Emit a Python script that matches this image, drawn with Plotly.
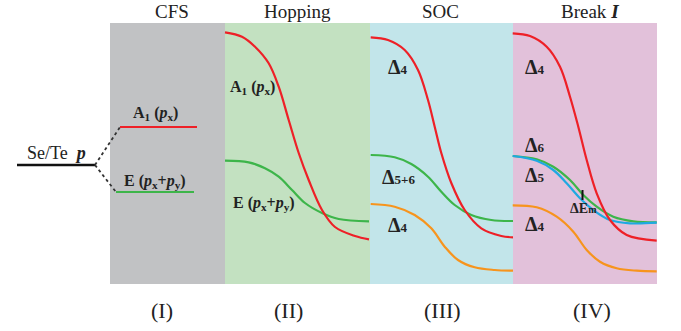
import plotly.graph_objects as go

# ---- data (diagram coordinates: x to the right, y = level position, downward axis) ----
panel_names = ["CFS", "Hopping", "SOC", "Break <b><i>I</i></b>"]
panel_roman = ["(I)", "(II)", "(III)", "(IV)"]
panel_edges = [110, 225, 370, 513, 657]
panel_top, panel_bottom = 23, 284
panel_colors = ["#c1c2c4", "#c3e1c1", "#c2e5ea", "#e2c1da"]

# atomic level and crystal-field split levels
atom_x = [17, 95]
atom_y = [165, 165]
cfs_a1_x = [120, 197]
cfs_a1_y = [127, 127]
cfs_e_x = [116, 194]
cfs_e_y = [192, 192]
dot_up_x = [95, 120]
dot_up_y = [165, 127]
dot_dn_x = [95, 116]
dot_dn_y = [165, 192]

# Hopping panel
hop_red_x = [225, 242, 255, 268.7, 278.7, 288.7, 298.7, 308.7, 322, 335, 355, 369]
hop_red_y = [32.3, 36.7, 46.7, 63.3, 86.7, 120, 153, 180, 210, 227, 236, 239.3]
hop_grn_x = [225, 248.7, 265, 278.7, 292, 305, 322, 338.7, 369]
hop_grn_y = [160.7, 162.3, 168.3, 176.7, 190, 203, 213, 219, 221.3]

# SOC panel
soc_red_x = [370.7, 388, 404.7, 418, 428, 434.7, 441.3, 451.3, 464.7, 481.3, 501.3, 513]
soc_red_y = [37.3, 40, 50, 70, 100, 126.7, 153, 183, 210, 228.3, 236, 237.3]
soc_grn_x = [370.7, 394.7, 411.3, 428, 441.3, 454.7, 471.3, 491.3, 513]
soc_grn_y = [155, 157.3, 164, 176.7, 191.7, 205, 215, 220, 221]
soc_org_x = [370.7, 394.7, 414.7, 431.3, 444.7, 458, 474.7, 494.7, 513]
soc_org_y = [204, 206.7, 215, 228.3, 246.7, 260, 267.3, 270, 270.7]

# Break-I panel
brk_red_x = [512.7, 530, 546.7, 560, 570, 578.3, 586.7, 596.7, 610, 626.7, 656.7]
brk_red_y = [33.3, 36, 46.7, 66.7, 96.7, 126.7, 160, 193.3, 220, 235, 240.7]
brk_grn_x = [512.7, 536.7, 553.3, 570, 583.3, 596.7, 613.3, 633.3, 656.7]
brk_grn_y = [156, 159.3, 166.7, 180, 195, 206.7, 216.7, 221.3, 222.3]
brk_blu_x = [512.7, 536.7, 553.3, 566.7, 580, 593.3, 610, 630, 656.7]
brk_blu_y = [156, 160.7, 170, 183.3, 198.3, 210, 220, 223.3, 222.7]
brk_org_x = [512.7, 536.7, 556.7, 573.3, 586.7, 600, 616.7, 636.7, 656.7]
brk_org_y = [205.3, 207.3, 216.7, 231.7, 250, 261.7, 268.3, 270.7, 271.3]
dem_x = [582.5, 582.5]
dem_y = [190, 200]

RED = "#ee2027"
GRN = "#3db54a"
ORG = "#f7941d"
BLU = "#1fa9e1"

fig = go.Figure()

# panels
for i in range(4):
    fig.add_shape(type="rect", x0=panel_edges[i], x1=panel_edges[i + 1],
                  y0=panel_top, y1=panel_bottom, fillcolor=panel_colors[i],
                  line_width=0, layer="below")


def line(x, y, color, width=2, dash=None, shape="linear"):
    fig.add_trace(go.Scatter(x=x, y=y, mode="lines",
                             line=dict(color=color, width=width, dash=dash, shape=shape),
                             hoverinfo="skip", showlegend=False))


line(atom_x, atom_y, "#111111", 2.4)
line(dot_up_x, dot_up_y, "#333333", 1.8, "dot")
line(dot_dn_x, dot_dn_y, "#333333", 1.8, "dot")
line(cfs_a1_x, cfs_a1_y, RED, 2.2)
line(cfs_e_x, cfs_e_y, GRN, 2.2)

for xs, ys, c in [
    (hop_grn_x, hop_grn_y, GRN), (hop_red_x, hop_red_y, RED),
    (soc_org_x, soc_org_y, ORG), (soc_grn_x, soc_grn_y, GRN), (soc_red_x, soc_red_y, RED),
    (brk_org_x, brk_org_y, ORG), (brk_grn_x, brk_grn_y, GRN), (brk_blu_x, brk_blu_y, BLU),
    (brk_red_x, brk_red_y, RED),
]:
    line(xs, ys, c, 2.2, shape="spline")

line(dem_x, dem_y, "#111111", 2)

SERIF = "Liberation Serif, Times New Roman, serif"


def txt(x, y, s, size=15, bold=False):
    fig.add_annotation(x=x, y=y, text=("<b>%s</b>" % s) if bold else s,
                       showarrow=False, font=dict(family=SERIF, size=size, color="#222222"),
                       xanchor="center", yanchor="middle")


title_x = [172, 297, 440, 590]
roman_x = [162, 288, 442, 592]
for i in range(4):
    txt(title_x[i], 11, panel_names[i], 19)
    txt(roman_x[i], 310, panel_roman[i], 22)

txt(56, 153, "Se/Te  <b><i>p</i></b>", 18)
txt(155, 113, "A<sub>1</sub> (<i>p</i><sub>x</sub>)", 16, True)
txt(155, 181, "E (<i>p</i><sub>x</sub>+<i>p</i><sub>y</sub>)", 16, True)
txt(252, 87, "A<sub>1</sub> (<i>p</i><sub>x</sub>)", 16, True)
txt(264, 203, "E (<i>p</i><sub>x</sub>+<i>p</i><sub>y</sub>)", 16, True)

SM = "<span style='font-size:13px'>%s</span>"
txt(398, 67, "Δ" + SM % "4", 20, True)
txt(398, 177, "Δ" + SM % "5+6", 20, True)
txt(398, 225, "Δ" + SM % "4", 20, True)
txt(535, 67, "Δ" + SM % "4", 20, True)
txt(535, 145, "Δ" + SM % "6", 20, True)
txt(535, 175, "Δ" + SM % "5", 20, True)
txt(535, 224, "Δ" + SM % "4", 20, True)
txt(583, 208, "ΔE<span style='font-size:10px'>m</span>", 14, True)

fig.update_layout(width=681, height=331, margin=dict(l=0, r=0, t=0, b=0),
                  paper_bgcolor="white", plot_bgcolor="white",
                  xaxis=dict(range=[0, 681], visible=False, fixedrange=True),
                  yaxis=dict(range=[331, 0], visible=False, fixedrange=True))
fig.write_html("out.html", config={"displayModeBar": False},
               post_script="document.body.style.margin='0';document.body.style.overflow='hidden';")
